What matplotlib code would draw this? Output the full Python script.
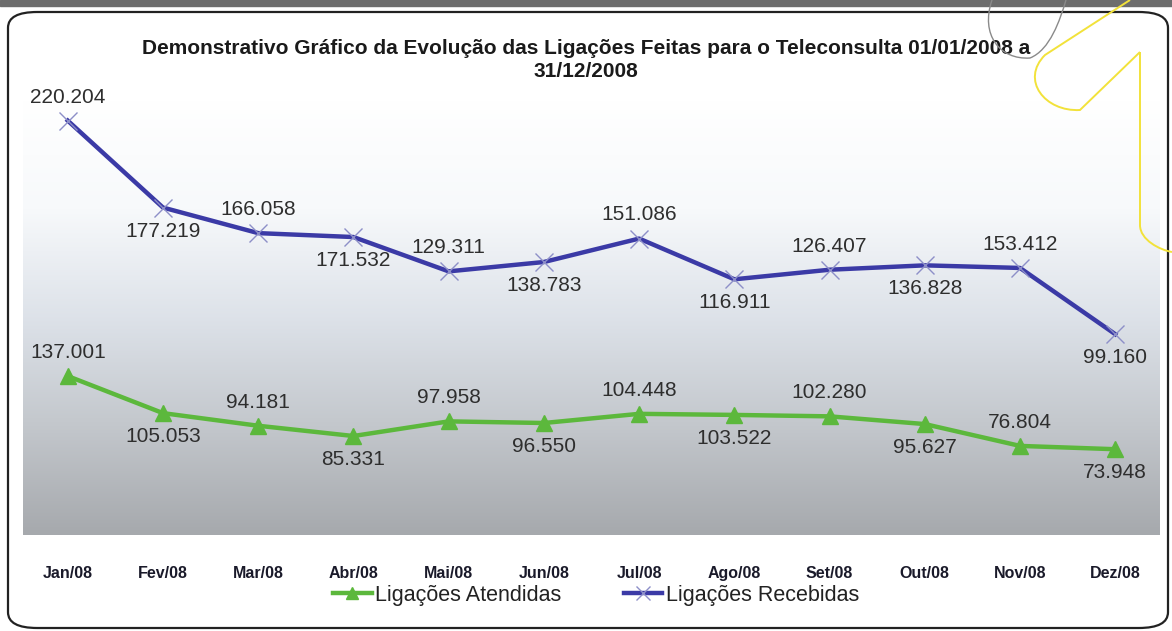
#! /usr/bin/env python3
# -*- coding: utf-8 -*-
"""
recreate the Teleconsulta 2008 call statistics chart (stacked line chart)
"""

# import modules
import matplotlib
matplotlib.use("Agg")
import matplotlib.pyplot as plt
from matplotlib.colors import LinearSegmentedColormap
from matplotlib.patches import FancyBboxPatch, PathPatch
from matplotlib.path import Path
import numpy as np

# -----------------------------------------------------------------------------

# chart data
meses = ["Jan/08", "Fev/08", "Mar/08", "Abr/08", "Mai/08", "Jun/08",
         "Jul/08", "Ago/08", "Set/08", "Out/08", "Nov/08", "Dez/08"]

atendidas = [137001, 105053, 94181, 85331, 97958, 96550,
             104448, 103522, 102280, 95627, 76804, 73948]

recebidas = [220204, 177219, 166058, 171532, 129311, 138783,
             151086, 116911, 126407, 136828, 153412, 99160]

titulo = ("Demonstrativo Gráfico da Evolução das Ligações Feitas para o "
          "Teleconsulta 01/01/2008 a\n31/12/2008")

# colours
COR_VERDE = "#5cb83c"
COR_AZUL  = "#3b3aa6"
COR_TEXTO = "#2e2e2e"

plt.rcParams['font.family'] = ['Liberation Sans', 'DejaVu Sans']

# -----------------------------------------------------------------------------

def fmt(v):
    """format number with dot as thousands separator"""
    return "{:,}".format(v).replace(",", ".")


def Rotular(ax, x, y, valores):
    """data labels, alternating above / below the point"""
    for i, (xi, yi, v) in enumerate(zip(x, y, valores)):
        dy = 17 if i % 2 == 0 else -17
        ax.annotate(fmt(v), (xi, yi), xytext=(0, dy),
                    textcoords="offset points", ha="center", va="center",
                    fontsize=15, color=COR_TEXTO, zorder=5)


def Decorar(fig):
    """rounded frame and the scanned pen marks"""
    # dark band at the very top of the scan
    fig.patches.append(plt.Rectangle((0, 0.99), 1, 0.01,
                       transform=fig.transFigure, color="#6d6d6d", zorder=0))
    moldura = FancyBboxPatch((8 / 1172, 3 / 631), 1160 / 1172, 616 / 631,
                             boxstyle="round,pad=0,rounding_size=0.025",
                             transform=fig.transFigure, fill=False,
                             edgecolor="#222222", linewidth=1.6, zorder=1)
    fig.patches.append(moldura)

    # yellow pen mark (pixel coords, y from top)
    pts = [(1130, 0), (1045, 55), (1020, 80), (1045, 112), (1080, 110),
           (1140, 52), (1140, 52), (1140, 225), (1140, 240), (1160, 250),
           (1172, 252)]
    codes = [Path.MOVETO, Path.LINETO, Path.CURVE4, Path.CURVE4, Path.CURVE4,
             Path.LINETO, Path.MOVETO, Path.LINETO, Path.CURVE4, Path.CURVE4,
             Path.CURVE4]
    verts = [(px / 1172, 1 - py / 631) for px, py in pts]
    fig.patches.append(PathPatch(Path(verts, codes), fill=False,
                       edgecolor="#f2e23a", linewidth=1.4,
                       transform=fig.transFigure, zorder=6))

    # grey pen circle
    pts = [(992, 0), (980, 35), (1000, 60), (1030, 58), (1050, 50),
           (1060, 20), (1066, 0)]
    codes = [Path.MOVETO, Path.CURVE4, Path.CURVE4, Path.CURVE4,
             Path.CURVE4, Path.CURVE4, Path.CURVE4]
    verts = [(px / 1172, 1 - py / 631) for px, py in pts]
    fig.patches.append(PathPatch(Path(verts, codes), fill=False,
                       edgecolor="#8a8a8a", linewidth=1.0,
                       transform=fig.transFigure, zorder=6))

# -----------------------------------------------------------------------------

def MakePlot():
    """create the stacked line chart"""
    fig = plt.figure(figsize=(11.72, 6.31), dpi=100)
    fig.patch.set_facecolor("white")

    ax = fig.add_axes([23 / 1172, 1 - 535 / 631, 1137 / 1172, 435 / 631])

    # gradient background of the plot area
    grad = LinearSegmentedColormap.from_list(
        "fundo", ["#a6a9ad", "#c3c7cc", "#dde2e9", "#f7f9fb", "#ffffff"])
    ax.imshow(np.linspace(0, 1, 256).reshape(-1, 1), cmap=grad,
              origin="lower", aspect="auto", extent=[0, 1, 0, 1],
              transform=ax.transAxes, zorder=0)

    x = np.arange(len(meses))
    a = np.array(atendidas)
    # stacked: received series sits on top of the answered one
    r = a + np.array(recebidas)

    ax.plot(x, a, color=COR_VERDE, linewidth=3.2, marker="^",
            markersize=11, markerfacecolor=COR_VERDE,
            markeredgecolor=COR_VERDE, zorder=3,
            label="Ligações Atendidas")
    ax.plot(x, r, color=COR_AZUL, linewidth=3.2, marker="x",
            markersize=13, markeredgewidth=1.0, markeredgecolor="#8d8fc8",
            zorder=3, label="Ligações Recebidas")

    Rotular(ax, x, a, atendidas)
    Rotular(ax, x, r, recebidas)

    ax.set_xlim(-0.47, len(meses) - 0.53)
    ax.set_ylim(0, 375000)
    ax.set_yticks([])
    ax.set_xticks(x)
    ax.set_xticklabels(meses, fontsize=11.5, fontweight="bold",
                       color="#1a1a2a")
    ax.tick_params(axis="x", length=0, pad=22)
    for s in ax.spines.values():
        s.set_visible(False)

    fig.text(0.5, 1 - 60 / 631, titulo, ha="center", va="center",
             fontsize=15, fontweight="bold", color="#1a1a1a",
             linespacing=1.25)

    fig.legend(loc="center", bbox_to_anchor=(596 / 1172, 1 - 595 / 631),
               ncol=2, frameon=False, fontsize=15.5, handlelength=1.8,
               markerscale=0.75, handletextpad=0.15, columnspacing=2.9,
               labelcolor="#222222")

    Decorar(fig)

    fig.savefig("out.png", dpi=100)

# -----------------------------------------------------------------------------

def main():
    """main function"""
    MakePlot()


if __name__ == "__main__":
    main()
